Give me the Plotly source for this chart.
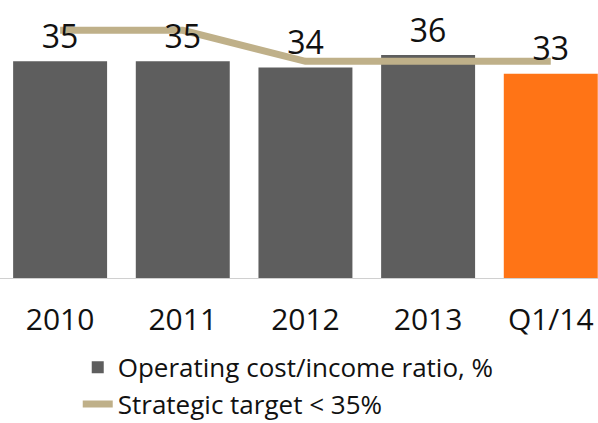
import plotly.graph_objects as go

# Operating cost/income ratio by period, with the strategic target line
periods = ["2010", "2011", "2012", "2013", "Q1/14"]
cost_income = [35, 35, 34, 36, 33]
target = [40, 40, 35, 35, 35]

GREY = "#5e5e5e"
ORANGE = "#ff7416"
KHAKI = "#bfb089"
FONT = "Open Sans, Noto Sans, sans-serif"

bar_colors = [GREY] * (len(periods) - 1) + [ORANGE]

fig = go.Figure()

fig.add_bar(
    x=periods,
    y=cost_income,
    name="Operating cost/income ratio, %",
    marker=dict(color=bar_colors, line=dict(width=0)),
)

fig.add_scatter(
    x=periods,
    y=target,
    mode="lines",
    name="Strategic target < 35%",
    line=dict(color=KHAKI, width=7),
)

# value labels above the bars, drawn last so they sit over the target line;
# the invisible marker only pads the text away from the bar top
fig.add_scatter(
    x=periods,
    y=cost_income,
    mode="markers+text",
    text=[str(v) for v in cost_income],
    textposition="top center",
    textfont=dict(family=FONT, size=32, color="#111111"),
    marker=dict(size=7, color="rgba(0,0,0,0)"),
    showlegend=False,
    hoverinfo="skip",
    cliponaxis=False,
)

fig.update_layout(
    width=598,
    height=423,
    margin=dict(l=0, r=0, t=0, b=145, autoexpand=False),
    plot_bgcolor="white",
    paper_bgcolor="white",
    bargap=0.234,
    font=dict(family=FONT, color="#111111"),
    showlegend=True,
    legend=dict(
        x=0.13,
        xanchor="left",
        y=-0.237,
        yanchor="top",
        font=dict(family=FONT, size=26, color="#111111"),
        bgcolor="rgba(0,0,0,0)",
        tracegroupgap=0,
    ),
)

fig.update_xaxes(
    type="category",
    range=[-0.49, 4.385],
    automargin=False,
    showgrid=False,
    showline=True,
    linecolor="#d0d0d0",
    linewidth=1,
    ticks="",
    tickfont=dict(family=FONT, size=30, color="#111111"),
    ticklabelstandoff=15,
    fixedrange=True,
)

fig.update_yaxes(
    range=[0, 44.9],
    visible=False,
    automargin=False,
    showgrid=False,
    zeroline=False,
    fixedrange=True,
)

fig.write_html("out.html")
